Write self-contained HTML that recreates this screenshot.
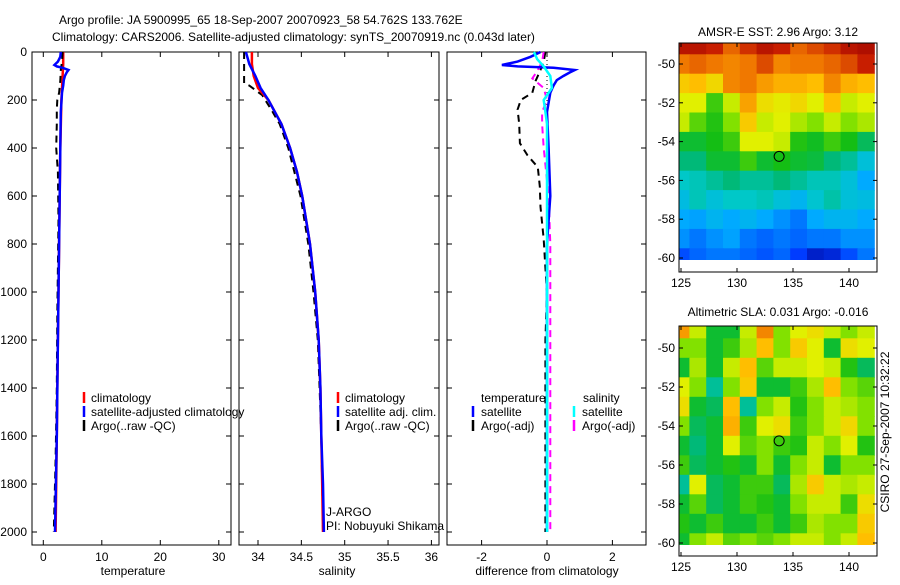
<!DOCTYPE html>
<html><head><meta charset="utf-8"><style>
body{margin:0;background:#fff}
svg text{font-family:"Liberation Sans",sans-serif;font-size:12px;fill:#000}
</style></head><body>
<svg id="fig" width="900" height="580" xmlns="http://www.w3.org/2000/svg">
<rect width="900" height="580" fill="#fff"/>
<text x="59" y="24" font-size="13.5">Argo profile: JA 5900995_65 18-Sep-2007 20070923_58 54.762S 133.762E</text>
<text x="52" y="41" font-size="13.5">Climatology: CARS2006. Satellite-adjusted climatology: synTS_20070919.nc (0.043d later)</text>
<text x="778" y="36" text-anchor="middle">AMSR-E SST: 2.96 Argo: 3.12</text>
<text x="778" y="316" text-anchor="middle">Altimetric SLA: 0.031 Argo: -0.016</text>
<text transform="translate(889,432) rotate(-90)" text-anchor="middle">CSIRO 27-Sep-2007 10:32:22</text>
<g id="g"></g>
</svg>
<script>
// ---------- data ----------
const depthTicks=[0,200,400,600,800,1000,1200,1400,1600,1800,2000];
const tempTicks=[0,10,20,30];
const salTicks=[34,34.5,35,35.5,36];
const salTickLabels=["34","34.5","35","35.5","36"];
const diffTicks=[-2,0,2];
const climTempDepth=[0,50,100,200,400,600,800,1000,1200,1400,1600,1800,2000];
const climTemp=[3.4,3.4,3.3,3.1,2.9,2.8,2.7,2.6,2.5,2.4,2.3,2.2,2.1];
const satTempDepth=[0,20,40,54,60,66,75,85,100,117,140,170,250,400,800,1200,1600,2000];
const satTemp=[3.0,2.9,2.5,1.9,2.3,3.3,4.3,4.0,3.7,3.5,3.4,3.2,3.0,2.9,2.7,2.5,2.3,2.0];
const argoTempDepth=[0,40,75,120,170,200,240,300,400,500,700,900,1100,1400,1700,1900,2000];
const argoTemp=[3.3,3.2,3.0,2.9,2.7,2.4,2.3,2.3,2.2,2.5,2.6,2.5,2.4,2.3,2.1,1.9,1.8];
const climSalDepth=[0,50,100,150,200,300,400,500,600,800,1000,1200,1400,1600,1800,2000];
const climSal=[33.93,33.93,33.95,34.0,34.12,34.27,34.37,34.45,34.51,34.6,34.66,34.7,34.72,34.73,34.74,34.75];
const satSalDepth=[0,50,100,150,200,300,400,500,600,800,1000,1200,1400,1600,1800,2000];
const satSal=[33.86,33.9,33.97,34.03,34.12,34.27,34.37,34.45,34.51,34.6,34.66,34.7,34.72,34.73,34.75,34.76];
const argoSalDepth=[0,60,130,140,180,250,300,400,500,600,800,1000,1200,1400,1600,1800,2000];
const argoSal=[33.84,33.84,33.84,33.9,34.05,34.17,34.25,34.35,34.42,34.49,34.58,34.64,34.69,34.71,34.73,34.74,34.75];
const dTempDepth=[0,20,40,54,60,66,75,85,100,117,140,170,250,400,600,800,1000,2000];
const dTempSat=[-0.2,-0.5,-0.9,-1.38,-0.9,0.2,0.85,0.7,0.5,0.3,0.2,0.1,0,0.05,0.1,0,0,0];
const dTempArgoDepth=[0,40,75,120,170,200,240,300,380,430,480,560,645,780,900,1000,1200,2000];
const dTempArgo=[-0.05,-0.1,-0.2,-0.35,-0.45,-0.8,-0.9,-0.85,-0.83,-0.6,-0.28,-0.22,-0.2,-0.1,-0.05,0,-0.05,-0.05];
const dSalSatDepth=[0,30,60,100,150,200,250,300,500,1000,2000];
const dSalSat=[-0.4,-0.3,-0.1,0.1,0.15,-0.1,-0.05,0,0,0,0];
const dSalArgoDepth=[0,40,80,110,150,200,250,300,400,600,800,1000,1200,1400,2000];
const dSalArgo=[-0.1,-0.15,-0.3,-0.45,-0.1,0,-0.15,-0.15,-0.1,0.05,0.1,0.1,0.1,0.1,0.1];
const mapLons=[125,126.5,128,129.5,131,132.5,134,135.5,137,138.5,140,141.5];
const mapLats=[-49,-50,-51,-52,-53,-54,-55,-56,-57,-58,-59,-60];
const sst=[
[0.93,0.93,0.9,0.82,0.88,0.93,0.9,0.82,0.85,0.88,0.93,0.95],
[0.8,0.82,0.8,0.78,0.8,0.85,0.78,0.8,0.8,0.82,0.85,0.9],
[0.68,0.7,0.66,0.78,0.8,0.75,0.72,0.72,0.7,0.78,0.72,0.7],
[0.62,0.62,0.5,0.6,0.74,0.65,0.63,0.66,0.62,0.7,0.6,0.62],
[0.6,0.52,0.48,0.55,0.68,0.6,0.62,0.58,0.55,0.6,0.55,0.58],
[0.45,0.45,0.47,0.5,0.62,0.62,0.6,0.48,0.46,0.5,0.47,0.42],
[0.4,0.4,0.45,0.45,0.5,0.45,0.47,0.45,0.44,0.4,0.38,0.33],
[0.35,0.36,0.38,0.4,0.38,0.38,0.4,0.38,0.36,0.36,0.33,0.28],
[0.32,0.36,0.33,0.35,0.35,0.36,0.33,0.3,0.34,0.37,0.33,0.32],
[0.28,0.27,0.3,0.28,0.3,0.28,0.25,0.22,0.28,0.3,0.3,0.28],
[0.25,0.22,0.25,0.27,0.22,0.2,0.22,0.2,0.22,0.22,0.25,0.25],
[0.17,0.2,0.22,0.22,0.2,0.18,0.2,0.15,0.08,0.1,0.17,0.22]];
const sla=[
[0.75,0.6,0.45,0.45,0.6,0.78,0.55,0.62,0.65,0.6,0.55,0.6],
[0.55,0.55,0.45,0.5,0.58,0.7,0.55,0.68,0.62,0.45,0.65,0.62],
[0.45,0.58,0.45,0.6,0.7,0.52,0.6,0.6,0.62,0.6,0.48,0.42],
[0.62,0.55,0.38,0.55,0.68,0.45,0.45,0.5,0.58,0.7,0.55,0.52],
[0.65,0.45,0.42,0.7,0.38,0.55,0.6,0.48,0.55,0.6,0.58,0.55],
[0.55,0.42,0.45,0.72,0.5,0.62,0.65,0.5,0.55,0.6,0.66,0.55],
[0.45,0.4,0.45,0.62,0.52,0.55,0.5,0.48,0.6,0.55,0.62,0.48],
[0.5,0.42,0.45,0.48,0.45,0.55,0.45,0.55,0.6,0.45,0.55,0.55],
[0.38,0.62,0.42,0.45,0.5,0.5,0.42,0.58,0.68,0.6,0.58,0.6],
[0.45,0.52,0.42,0.45,0.5,0.48,0.45,0.55,0.6,0.6,0.5,0.65],
[0.48,0.45,0.5,0.45,0.45,0.5,0.45,0.5,0.58,0.55,0.55,0.68],
[0.45,0.55,0.6,0.52,0.55,0.52,0.55,0.6,0.6,0.55,0.6,0.7]];
const lonTicks=[125,130,135,140];
const latTicks=[-50,-52,-54,-56,-58,-60];
const floatLon=133.762, floatLat=-54.762;

// ---------- helpers ----------
const NS="http://www.w3.org/2000/svg";
const G=document.getElementById('g');
function mk(tag,attrs,parent){const e=document.createElementNS(NS,tag);for(const k in attrs)e.setAttribute(k,attrs[k]);(parent||G).appendChild(e);return e;}
const yD=d=>52+d*0.24;
const xT=t=>43.3+5.85*t;
const xS=s=>258+86.7*(s-34);
const xDf=v=>547+32.7*v;
function line(xs,ds,xf,color,w,dash,name){
  const p=xs.map((v,i)=>xf(v).toFixed(1)+','+yD(ds[i]).toFixed(1)).join(' ');
  const e=mk('polyline',{points:p,fill:'none',stroke:color,'stroke-width':w});
  if(dash)e.setAttribute('stroke-dasharray',dash);
  
  
}
function frame(x0,x1,y0,y1,name){
  const e=mk('rect',{x:x0,y:y0,width:x1-x0,height:y1-y0,fill:'none',stroke:'#000','stroke-width':1});
  
  
}
function txt(x,y,s,anchor,name){const e=mk('text',{x:x,y:y,'text-anchor':anchor||'start'});e.textContent=s;
  
  return e;}
function xticks(vals,labels,xf,x0,x1,y0,y1,name){
  vals.forEach((v,i)=>{const x=xf(v);
    mk('line',{x1:x,x2:x,y1:y1,y2:y1-5,stroke:'#000'});mk('line',{x1:x,x2:x,y1:y0,y2:y0+5,stroke:'#000'});
    txt(x,y1+16,labels[i],'middle',name);});
}
function yticksDepth(x0,x1,labels){
  depthTicks.forEach(d=>{const y=yD(d);
    mk('line',{x1:x0,x2:x0+5,y1:y,y2:y,stroke:'#000'});mk('line',{x1:x1,x2:x1-5,y1:y,y2:y,stroke:'#000'});
    if(labels)txt(27,y+4,String(d),'end','depth-tick-label');});
}
function legendMark(x,y,color,name){const e=mk('line',{x1:x,x2:x,y1:y-6,y2:y+5,stroke:color,'stroke-width':2.5});
  
  }

// ---------- panel 1 temperature ----------
frame(32,231,52,545,'temperature-axes');
yticksDepth(32,231,true);
xticks(tempTicks,tempTicks.map(String),xT,32,231,52,545,'temperature-tick-label');
line(climTemp,climTempDepth,xT,'#f00',2.5,null,'climatology-temp-line');
line(argoTemp,argoTempDepth,xT,'#000',2,'7,5','argo-temp-line');
line(satTemp,satTempDepth,xT,'#00f',2.5,null,'satellite-temp-line');
txt(133,575,'temperature','middle','x-axis-title-temperature');
legendMark(84,398,'#f00','legend-climatology-mark');txt(91,402,'climatology','start','legend-climatology');
legendMark(84,412,'#00f','legend-satellite-mark');txt(91,416,'satellite-adjusted climatology','start','legend-satellite-adjusted');
legendMark(84,426,'#000','legend-argo-mark');txt(91,430,'Argo(..raw -QC)','start','legend-argo');

// ---------- panel 2 salinity ----------
frame(239,439,52,545,'salinity-axes');
yticksDepth(239,439,false);
xticks(salTicks,salTickLabels,xS,239,439,52,545,'salinity-tick-label');
line(argoSal,argoSalDepth,xS,'#000',2,'7,5','argo-salinity-line');
line(climSal,climSalDepth,xS,'#f00',2.5,null,'climatology-salinity-line');
line(satSal,satSalDepth,xS,'#00f',2.5,null,'satellite-salinity-line');
txt(337,575,'salinity','middle','x-axis-title-salinity');
legendMark(338,398,'#f00','legend-climatology-mark');txt(345,402,'climatology','start','legend-climatology');
legendMark(338,412,'#00f','legend-satellite-mark');txt(345,416,'satellite adj. clim.','start','legend-satellite-adj-clim');
legendMark(338,426,'#000','legend-argo-mark');txt(345,430,'Argo(..raw -QC)','start','legend-argo');
txt(326,516,'J-ARGO','start','program-label');
txt(326,530,'PI: Nobuyuki Shikama','start','pi-label');

// ---------- panel 3 differences ----------
frame(447,646,52,545,'difference-axes');
yticksDepth(447,646,false);
xticks(diffTicks,diffTicks.map(String),xDf,447,646,52,545,'difference-tick-label');
mk('line',{x1:xDf(0),x2:xDf(0),y1:52,y2:530,stroke:'#000','stroke-dasharray':'1,3'});
line(dTempArgo,dTempArgoDepth,xDf,'#000',2,'7,5','argo-temp-diff-line');
line(dSalArgo,dSalArgoDepth,xDf,'#f0f',2,'7,5','argo-salinity-diff-line');
line(dTempSat,dTempDepth,xDf,'#00f',2.5,null,'satellite-temp-diff-line');
line(dSalSat,dSalSatDepth,xDf,'#0ff',2.5,null,'satellite-salinity-diff-line');
txt(547,575,'difference from climatology','middle','x-axis-title-difference');
txt(481,402,'temperature','start','legend-temperature-header');
legendMark(473,412,'#00f','legend-temp-satellite-mark');txt(481,416,'satellite','start','legend-temp-satellite');
legendMark(473,426,'#000','legend-temp-argo-mark');txt(481,430,'Argo(-adj)','start','legend-temp-argo');
txt(583,402,'salinity','start','legend-salinity-header');
legendMark(574,412,'#0ff','legend-sal-satellite-mark');txt(582,416,'satellite','start','legend-sal-satellite');
legendMark(574,426,'#f0f','legend-sal-argo-mark');txt(582,430,'Argo(-adj)','start','legend-sal-argo');

// ---------- maps ----------
const cmapStops=[[0,[0,0,140]],[0.15,[0,60,255]],[0.28,[0,170,255]],[0.35,[0,200,200]],[0.4,[0,185,120]],
 [0.47,[20,190,20]],[0.55,[130,225,0]],[0.62,[225,240,0]],[0.7,[255,190,0]],[0.8,[240,120,0]],[0.9,[200,30,0]],[1,[150,0,0]]];
function cmap(v){v=Math.max(0,Math.min(1,v));
  for(let i=1;i<cmapStops.length;i++){const a=cmapStops[i-1],b=cmapStops[i];
    if(v<=b[0]){const t=(v-a[0])/(b[0]-a[0]);const c=a[1].map((x,k)=>Math.round(x+(b[1][k]-x)*t));return 'rgb('+c.join(',')+')';}}
  return 'rgb(150,0,0)';}
function drawMap(grid,latTopPx,latSlope,boxTop,boxBot,name,cid){
  const lx=l=>681+(l-125)*11.2, ly=l=>latTopPx+(-50-l)*latSlope;
  const cp=mk('clipPath',{id:cid});
  mk('rect',{x:679,y:boxTop,width:198,height:ly(-60.1)-boxTop},cp);
  const g=mk('g',{'clip-path':'url(#'+cid+')'});
  
  
  grid.forEach((row,i)=>row.forEach((v,j)=>{
    const x0=lx(mapLons[j]-0.75),x1=lx(mapLons[j]+0.75),y0=ly(mapLats[i]+0.5),y1=ly(mapLats[i]-0.5);
    const c=mk('rect',{x:x0.toFixed(1),y:y0.toFixed(1),width:(x1-x0+0.6).toFixed(1),height:(y1-y0+0.6).toFixed(1),fill:cmap(v)},g);
    
    
  }));
  frame(679,877,boxTop,boxBot,name+'-axes');
  lonTicks.forEach(l=>{const x=lx(l);mk('line',{x1:x,x2:x,y1:boxBot,y2:boxBot-4,stroke:'#000'});mk('line',{x1:x,x2:x,y1:boxTop,y2:boxTop+4,stroke:'#000'});
    txt(x,boxBot+15,String(l),'middle',name+'-lon-label');});
  latTicks.forEach(l=>{const y=ly(l);mk('line',{x1:679,x2:683,y1:y,y2:y,stroke:'#000'});mk('line',{x1:877,x2:873,y1:y,y2:y,stroke:'#000'});
    txt(675,y+4,String(l),'end',name+'-lat-label');});
  const c=mk('circle',{cx:lx(floatLon),cy:ly(floatLat),r:5,fill:'none',stroke:'#000','stroke-width':1});
  
  
}
drawMap(sst,64,19.4,43,272,'sst-map','clipA');
drawMap(sla,348,19.5,326,556,'sla-map','clipB');
</script>
</body></html>
